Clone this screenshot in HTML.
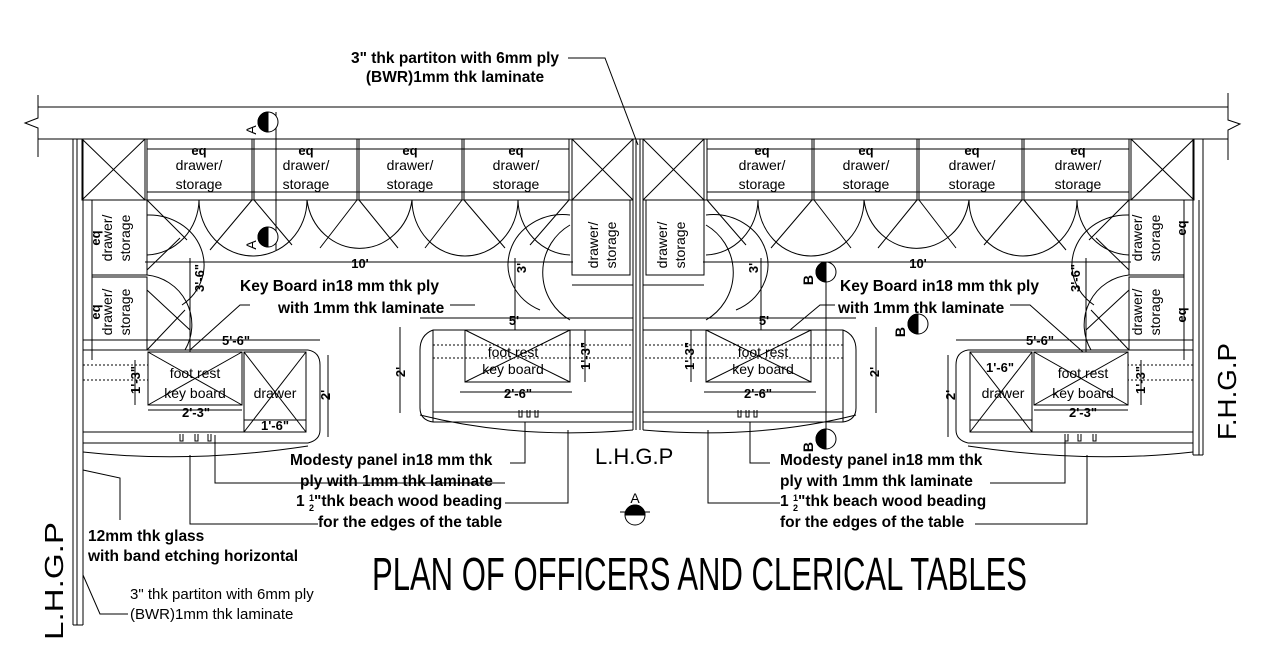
<!DOCTYPE html>
<html><head><meta charset="utf-8"><style>
html,body{margin:0;padding:0;background:#fff;}
svg{display:block;}
.b{font-family:"Liberation Sans",Arial,sans-serif;font-weight:bold;font-size:15.5px;fill:#000;}
.n{font-family:"Liberation Sans",Arial,sans-serif;font-size:14px;fill:#000;}
.d{font-family:"Liberation Sans",Arial,sans-serif;font-weight:bold;font-size:13px;fill:#000;}
</style></head><body>
<svg width="1278" height="669" viewBox="0 0 1278 669" xmlns="http://www.w3.org/2000/svg">
<defs>
<g id="half" fill="none" stroke="#000" stroke-width="1">
  <rect x="82" y="139" width="63" height="61"/>
  <line x1="82" y1="139" x2="145" y2="200"/><line x1="145" y1="139" x2="82" y2="200"/>
  <rect x="572" y="139" width="61" height="61"/>
  <line x1="572" y1="139" x2="633" y2="200"/><line x1="633" y1="139" x2="572" y2="200"/>
  <line x1="147" y1="139" x2="147" y2="200"/>
  <line x1="252" y1="139" x2="252" y2="200"/><line x1="254" y1="139" x2="254" y2="200"/>
  <line x1="357" y1="139" x2="357" y2="200"/><line x1="359" y1="139" x2="359" y2="200"/>
  <line x1="462" y1="139" x2="462" y2="200"/><line x1="464" y1="139" x2="464" y2="200"/>
  <line x1="569" y1="139" x2="569" y2="200"/>
  <line x1="147" y1="149" x2="569" y2="149"/>
  <line x1="147" y1="192" x2="569" y2="192"/>
  <line x1="83" y1="200" x2="633" y2="200"/>
  <path d="M199 200 A54 56 0 0 0 307 200 M307 200 A53 56 0 0 0 412 200 M412 200 A53 56 0 0 0 518 200"/>
  <path d="M147 255 A54 56 0 0 0 199 200 M518 200 A54 56 0 0 0 570 255"/>
  <path d="M147 215 A55 50 0 0 1 182 305 M147 275 A50 50 0 0 1 185 350 M570 215 A55 50 0 0 0 540 310 M570 225 A55 55 0 0 0 570 320"/>
  <path d="M147 200 L187 240 M252 200 L210 250 M254 200 L292 245 M357 200 L320 248 M359 200 L398 248 M462 200 L425 248 M464 200 L505 248 M569 200 L530 245"/>
  <path d="M147 270 L180 238 M147 290 L190 330 M147 350 L185 310"/>
  <rect x="92" y="200" width="55" height="75"/>
  <rect x="92" y="277" width="55" height="73"/>
  <rect x="572" y="200" width="58" height="75"/>
  <line x1="572" y1="285" x2="633" y2="285"/>
  <line x1="145" y1="262" x2="573" y2="262"/>
  <line x1="190" y1="258" x2="190" y2="352"/>
  <line x1="515" y1="258" x2="515" y2="330"/>
  <line x1="83" y1="340" x2="320" y2="340"/>
  <line x1="420" y1="318" x2="633" y2="318"/>
  <line x1="92" y1="266" x2="92" y2="360"/>
  <line x1="83" y1="350" x2="308" y2="350"/>
  <path d="M308 350 Q320 352 320 365 L320 430 Q320 440 308 443"/>
  <rect x="148" y="352" width="94" height="53"/>
  <line x1="148" y1="352" x2="242" y2="405"/><line x1="242" y1="352" x2="148" y2="405"/>
  <rect x="244" y="352" width="62" height="80"/>
  <line x1="244" y1="352" x2="306" y2="432"/><line x1="306" y1="352" x2="244" y2="432"/>
  <line x1="83" y1="365" x2="148" y2="365" stroke-dasharray="2 2"/>
  <line x1="83" y1="380" x2="148" y2="380" stroke-dasharray="2 2"/>
  <line x1="83" y1="432" x2="306" y2="432"/>
  <line x1="83" y1="443" x2="308" y2="443"/>
  <path d="M83 452 Q190 464 308 446"/>
  <line x1="135" y1="360" x2="135" y2="405"/>
  <line x1="148" y1="410" x2="242" y2="410"/>
  <line x1="244" y1="420" x2="306" y2="420"/>
  <line x1="328" y1="355" x2="328" y2="437"/>
  <path d="M180 434v7h3v-7M195 434v7h3v-7M208 434v7h3v-7"/>
  <line x1="433" y1="330" x2="633" y2="330"/>
  <path d="M433 330 Q420 335 420 350 L420 408 Q420 420 433 422"/>
  <line x1="433" y1="330" x2="433" y2="422"/>
  <rect x="465" y="330" width="105" height="52"/>
  <line x1="465" y1="330" x2="570" y2="382"/><line x1="570" y1="330" x2="465" y2="382"/>
  <line x1="433" y1="345" x2="633" y2="345" stroke-dasharray="2 2"/>
  <line x1="433" y1="358" x2="633" y2="358" stroke-dasharray="2 2"/>
  <line x1="433" y1="412" x2="633" y2="412"/>
  <line x1="433" y1="422" x2="633" y2="422"/>
  <path d="M420 415 Q520 440 633 430"/>
  <line x1="400" y1="327" x2="400" y2="413"/>
  <line x1="460" y1="392" x2="572" y2="392"/>
  <line x1="585" y1="330" x2="585" y2="382"/>
  <path d="M519 410v7h3v-7M527 410v7h3v-7M535 410v7h3v-7"/>
</g>
</defs>
<rect width="1278" height="669" fill="#fff"/>
<g fill="none" stroke="#000" stroke-width="1">
  <line x1="38" y1="107" x2="1228" y2="107"/>
  <line x1="38" y1="139" x2="1228" y2="139"/>
  <path d="M38 95 L38 118 L25 123 L38 128 L38 157"/>
  <path d="M1228 93 L1228 120 L1240 124 L1228 130 L1228 160"/>
  <line x1="633" y1="139" x2="633" y2="430"/><line x1="636" y1="139" x2="636" y2="430"/>
  <line x1="640" y1="139" x2="640" y2="430"/><line x1="643" y1="139" x2="643" y2="430"/>
  <line x1="73" y1="139" x2="73" y2="625"/><line x1="77" y1="139" x2="77" y2="625"/><line x1="83" y1="139" x2="83" y2="625"/>
  <line x1="73" y1="625" x2="83" y2="625"/>
  <line x1="1193" y1="139" x2="1193" y2="455"/><line x1="1199" y1="200" x2="1199" y2="455"/><line x1="1203" y1="139" x2="1203" y2="455"/>
  <line x1="1193" y1="455" x2="1203" y2="455"/>
  <path d="M568 58 L605 58 L638 145"/>
  <path d="M450 305 L475 305 L470 305 M250 305 L240 305 L190 350"/>
  <path d="M1010 305 L1030 305 L1083 352 M835 305 L820 305 L790 330"/>
  <path d="M510 463 L525 463 L525 422 M505 483 L215 483 L215 435 M505 503 L568 503 L568 430 M318 524 L190 524 L190 455"/>
  <path d="M770 463 L750 463 L750 422 M990 483 L1065 483 L1065 435 M780 503 L708 503 L708 430 M975 524 L1087 524 L1087 455"/>
  <path d="M83 470 L120 478 L120 520 M83 575 L100 614 L128 614"/>
  <line x1="276" y1="112" x2="276" y2="250"/>
  <line x1="826" y1="262" x2="826" y2="445"/>
  <line x1="620" y1="512" x2="650" y2="512"/>
</g>
<use href="#half"/>
<use href="#half" transform="translate(1276,0) scale(-1,1)"/>
<g stroke="#000" stroke-width="1">
  <circle cx="268" cy="122" r="10" fill="#fff"/><path d="M268 112 A10 10 0 0 0 268 132 Z" fill="#000"/>
  <circle cx="268" cy="237" r="10" fill="#fff"/><path d="M268 227 A10 10 0 0 0 268 247 Z" fill="#000"/>
  <circle cx="826" cy="272" r="10" fill="#fff"/><path d="M826 262 A10 10 0 0 0 826 282 Z" fill="#000"/>
  <circle cx="918" cy="324" r="10" fill="#fff"/><path d="M918 314 A10 10 0 0 0 918 334 Z" fill="#000"/>
  <circle cx="826" cy="439" r="10" fill="#fff"/><path d="M826 429 A10 10 0 0 0 826 449 Z" fill="#000"/>
  <circle cx="635" cy="515" r="10" fill="#fff"/><path d="M625 515 A10 10 0 0 1 645 515 Z" fill="#000"/>
</g>
<g class="n" font-size="22">
  <text transform="translate(256,130) rotate(-90)" text-anchor="middle">A</text>
  <text transform="translate(256,245) rotate(-90)" text-anchor="middle">A</text>
  <text transform="translate(813,280) rotate(-90)" text-anchor="middle" font-weight="bold">B</text>
  <text transform="translate(905,332) rotate(-90)" text-anchor="middle" font-weight="bold">B</text>
  <text transform="translate(813,447) rotate(-90)" text-anchor="middle" font-weight="bold">B</text>
  <text x="635" y="503" text-anchor="middle">A</text>
</g>
<g class="n" font-size="15" text-anchor="middle">
  <text x="199" y="170">drawer/</text><text x="199" y="189">storage</text>
  <text x="306" y="170">drawer/</text><text x="306" y="189">storage</text>
  <text x="410" y="170">drawer/</text><text x="410" y="189">storage</text>
  <text x="516" y="170">drawer/</text><text x="516" y="189">storage</text>
  <text x="762" y="170">drawer/</text><text x="762" y="189">storage</text>
  <text x="866" y="170">drawer/</text><text x="866" y="189">storage</text>
  <text x="972" y="170">drawer/</text><text x="972" y="189">storage</text>
  <text x="1078" y="170">drawer/</text><text x="1078" y="189">storage</text>
  <text transform="translate(112,238) rotate(-90)">drawer/</text><text transform="translate(130,238) rotate(-90)">storage</text>
  <text transform="translate(112,312) rotate(-90)">drawer/</text><text transform="translate(130,312) rotate(-90)">storage</text>
  <text transform="translate(598,245) rotate(-90)">drawer/</text><text transform="translate(616,245) rotate(-90)">storage</text>
  <text transform="translate(667,245) rotate(-90)">drawer/</text><text transform="translate(685,245) rotate(-90)">storage</text>
  <text transform="translate(1142,238) rotate(-90)">drawer/</text><text transform="translate(1160,238) rotate(-90)">storage</text>
  <text transform="translate(1142,312) rotate(-90)">drawer/</text><text transform="translate(1160,312) rotate(-90)">storage</text>
  <text x="195" y="378">foot rest</text><text x="195" y="398">key board</text>
  <text x="275" y="398">drawer</text>
  <text x="513" y="357">foot rest</text><text x="513" y="374">key board</text>
  <text x="763" y="357">foot rest</text><text x="763" y="374">key board</text>
  <text x="1083" y="378">foot rest</text><text x="1083" y="398">key board</text>
  <text x="1003" y="398">drawer</text>
</g>
<g class="d" text-anchor="middle">
  <text x="199" y="155">eq</text><text x="306" y="155">eq</text><text x="410" y="155">eq</text><text x="516" y="155">eq</text>
  <text x="762" y="155">eq</text><text x="866" y="155">eq</text><text x="972" y="155">eq</text><text x="1078" y="155">eq</text>
  <text x="360" y="268">10'</text><text x="918" y="268">10'</text>
  <text x="236" y="345">5'-6"</text><text x="1040" y="345">5'-6"</text>
  <text x="514" y="325">5'</text><text x="764" y="325">5'</text>
  <text x="196" y="417">2'-3"</text><text x="1083" y="417">2'-3"</text>
  <text x="275" y="430">1'-6"</text><text x="1000" y="372">1'-6"</text>
  <text x="518" y="398">2'-6"</text><text x="758" y="398">2'-6"</text>
  <text transform="translate(204,278) rotate(-90)">3'-6"</text>
  <text transform="translate(1080,278) rotate(-90)">3'-6"</text>
  <text transform="translate(526,268) rotate(-90)">3'</text>
  <text transform="translate(758,268) rotate(-90)">3'</text>
  <text transform="translate(100,238) rotate(-90)">eq</text><text transform="translate(100,312) rotate(-90)">eq</text>
  <text transform="translate(1186,228) rotate(-90)">eq</text><text transform="translate(1186,315) rotate(-90)">eq</text>
  <text transform="translate(140,380) rotate(-90)">1'-3"</text>
  <text transform="translate(1145,380) rotate(-90)">1'-3"</text>
  <text transform="translate(590,356) rotate(-90)">1'-3"</text>
  <text transform="translate(694,356) rotate(-90)">1'-3"</text>
  <text transform="translate(330,395) rotate(-90)">2'</text>
  <text transform="translate(955,395) rotate(-90)">2'</text>
  <text transform="translate(405,372) rotate(-90)">2'</text>
  <text transform="translate(879,372) rotate(-90)">2'</text>
</g>
<g class="b">
  <text x="455" y="63" text-anchor="middle">3" thk partiton with 6mm ply</text>
  <text x="455" y="82" text-anchor="middle">(BWR)1mm thk laminate</text>
  <text x="240" y="291">Key Board  in18 mm thk ply</text>
  <text x="278" y="313">with 1mm thk laminate</text>
  <text x="840" y="291">Key Board  in18 mm thk ply</text>
  <text x="838" y="313">with 1mm thk laminate</text>
  <text x="290" y="465">Modesty panel in18 mm thk</text>
  <text x="300" y="486">ply with 1mm thk laminate</text>
  <text x="296" y="506">1 <tspan font-size="9" dy="-5">1</tspan><tspan font-size="9" dx="-5" dy="10">2</tspan><tspan dy="-5">"thk beach wood beading</tspan></text>
  <text x="318" y="527">for the edges of the table</text>
  <text x="780" y="465">Modesty panel in18 mm thk</text>
  <text x="780" y="486">ply with 1mm thk laminate</text>
  <text x="780" y="506">1 <tspan font-size="9" dy="-5">1</tspan><tspan font-size="9" dx="-5" dy="10">2</tspan><tspan dy="-5">"thk beach wood beading</tspan></text>
  <text x="780" y="527">for the edges of the table</text>
  <text x="88" y="541">12mm thk glass</text>
  <text x="88" y="561">with band etching horizontal</text>
</g>
<g class="n">
  <text x="130" y="599" font-size="15">3" thk partiton with 6mm ply</text>
  <text x="130" y="619" font-size="15">(BWR)1mm thk laminate</text>
  <text x="595" y="464" font-size="22">L.H.G.P</text>
  <text transform="translate(63,640) rotate(-90)" font-size="26" textLength="118" lengthAdjust="spacingAndGlyphs">L.H.G.P</text>
  <text transform="translate(1236,440) rotate(-90)" font-size="26" textLength="97" lengthAdjust="spacingAndGlyphs">F.H.G.P</text>
  <text x="372" y="590" font-size="46" textLength="655" lengthAdjust="spacingAndGlyphs">PLAN OF OFFICERS AND CLERICAL TABLES</text>
</g>
</svg>
</body></html>
